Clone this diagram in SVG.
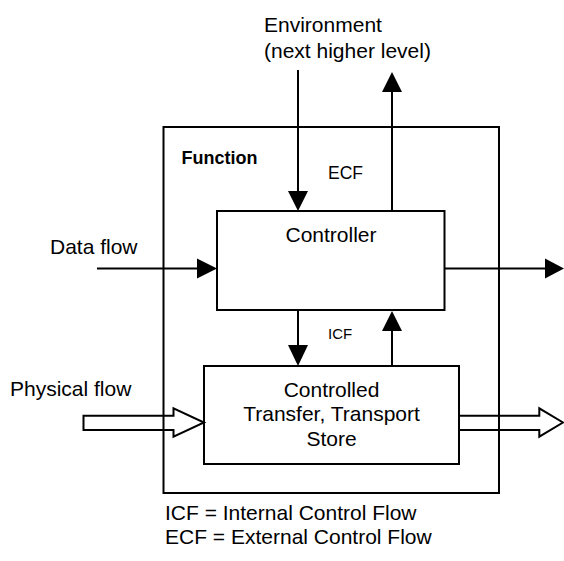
<svg xmlns="http://www.w3.org/2000/svg" width="564" height="561" viewBox="0 0 564 561">
  <style>
    .box { fill: none; stroke: #000; stroke-width: 2; }
    .line { fill: none; stroke: #000; stroke-width: 2; }
    .hollow { fill: none; stroke: #000; stroke-width: 2; stroke-linejoin: miter; }
    .head { fill: #000; stroke: none; }
    text { font-family: "Liberation Sans", Arial, sans-serif; fill: #000; }
    .lbl { font-size: 21px; }
    .mid { text-anchor: middle; }
    .small { font-size: 17.5px; }
    .tiny { font-size: 15px; }
    .bold { font-size: 18px; font-weight: bold; }
  </style>

  <!-- outer function boundary -->
  <g id="function">
    <rect class="box" x="163.5" y="127" width="335.5" height="366"/>
    <text class="bold" x="181.5" y="164">Function</text>
  </g>

  <!-- controller -->
  <g id="controller">
    <rect class="box" x="217" y="211" width="227.5" height="99"/>
    <text class="lbl mid" x="331" y="241.5">Controller</text>
  </g>

  <!-- controlled process -->
  <g id="controlled">
    <rect class="box" x="204" y="366" width="255" height="98"/>
    <text class="lbl mid" x="331.5" y="396.5">Controlled</text>
    <text class="lbl mid" x="331.5" y="421">Transfer, Transport</text>
    <text class="lbl mid" x="331.5" y="446">Store</text>
  </g>

  <!-- free labels -->
  <g id="environment">
    <text class="lbl" x="264" y="32">Environment</text>
    <text class="lbl" x="264" y="58">(next higher level)</text>
  </g>
  <g id="labels">
    <text class="lbl" x="50" y="254">Data flow</text>
    <text class="lbl" x="10" y="396">Physical flow</text>
    <text class="small" x="328" y="179">ECF</text>
    <text class="tiny" x="328" y="339">ICF</text>
  </g>
  <g id="legend">
    <text class="lbl" x="165" y="520">ICF = Internal Control Flow</text>
    <text class="lbl" x="165" y="543.5">ECF = External Control Flow</text>
  </g>

  <!-- connectors -->
  <g id="connectors">
    <!-- ECF in from environment -->
    <line class="line" x1="298" y1="70" x2="298" y2="192"/>
    <polygon class="head" points="288,191 308,191 298,211"/>
    <!-- ECF out to environment -->
    <line class="line" x1="392" y1="211" x2="392" y2="91"/>
    <polygon class="head" points="382,92 402,92 392,72"/>
    <!-- ICF down -->
    <line class="line" x1="298" y1="310" x2="298" y2="347"/>
    <polygon class="head" points="288,345 308,345 298,366"/>
    <!-- ICF up -->
    <line class="line" x1="392" y1="366" x2="392" y2="330"/>
    <polygon class="head" points="382,331 402,331 392,311"/>
    <!-- data flow in -->
    <line class="line" x1="97" y1="268.5" x2="198" y2="268.5"/>
    <polygon class="head" points="197,258.5 197,278.5 217,268.5"/>
    <!-- data flow out -->
    <line class="line" x1="444.5" y1="268.5" x2="546" y2="268.5"/>
    <polygon class="head" points="545,258.5 545,278.5 564,268.5"/>
    <!-- physical flow in -->
    <path class="hollow" d="M83.5,415.7 H173.5 V408.3 L204,422.5 L173.5,436.7 V430 H83.5 Z"/>
    <!-- physical flow out -->
    <path class="hollow" d="M459,415.7 H539.3 V408.3 L563,422.5 L539.3,436.7 V430 H459"/>
  </g>
</svg>
